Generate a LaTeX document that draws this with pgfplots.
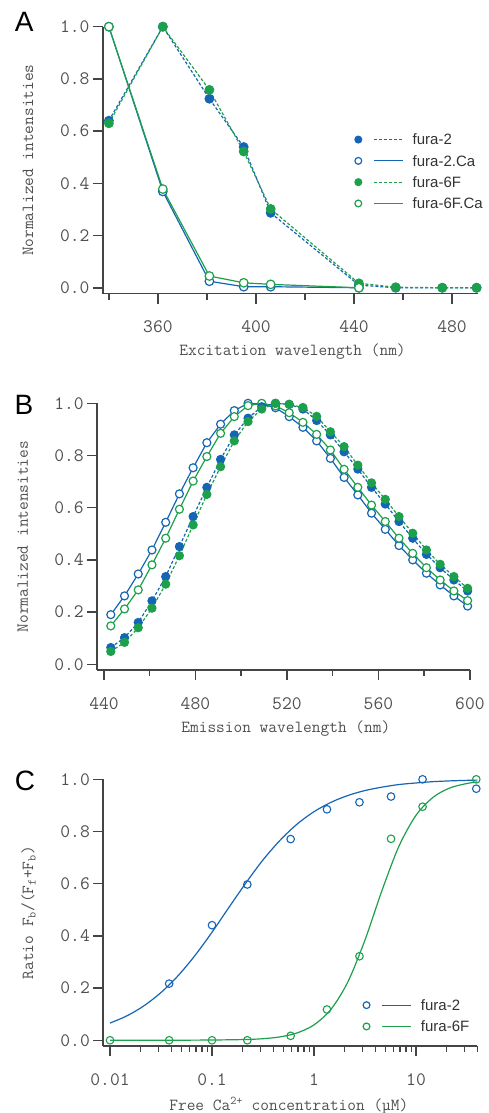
\documentclass[border=0pt]{standalone}
\usepackage{fontspec}
\newfontfamily\arial{Liberation Sans}
\usepackage{pgfplots}
\usepackage{pgfplotstable}
\pgfplotsset{compat=1.18}

\definecolor{fblue}{HTML}{1565B5}
\definecolor{fgreen}{HTML}{1DA04C}
\definecolor{axgray}{HTML}{444444}
\definecolor{txtgray}{HTML}{505050}
\definecolor{legtxt}{HTML}{333333}

% emission spectra, panel B: x, fura-2.Ca, fura-6F.Ca, fura-2, fura-6F
\pgfplotstableread{
x   f2ca  f6ca  f2    f6
443 0.190 0.147 0.064 0.049
449 0.262 0.212 0.102 0.084
455 0.346 0.285 0.160 0.140
461 0.438 0.381 0.243 0.215
467 0.544 0.483 0.336 0.307
473 0.653 0.594 0.451 0.416
479 0.753 0.702 0.566 0.534
485 0.849 0.796 0.678 0.651
491 0.920 0.885 0.785 0.757
497 0.972 0.949 0.879 0.856
503 1.000 0.991 0.943 0.930
509 0.997 1.000 0.987 0.978
515 0.983 0.990 1.000 1.000
521 0.949 0.964 0.996 0.996
527 0.908 0.927 0.978 0.984
533 0.856 0.881 0.934 0.950
539 0.789 0.821 0.879 0.891
545 0.716 0.747 0.814 0.834
551 0.649 0.678 0.748 0.763
557 0.579 0.610 0.678 0.695
563 0.517 0.547 0.614 0.632
569 0.455 0.483 0.547 0.566
575 0.400 0.425 0.483 0.502
581 0.349 0.370 0.421 0.438
587 0.304 0.323 0.370 0.383
593 0.262 0.281 0.323 0.336
599 0.223 0.244 0.281 0.291
}\emis

\pgfplotsset{
  base/.style={
    scale only axis, clip=false,
    axis lines=left,
    axis line style={-, axgray, line width=1.8pt},
    tick align=outside,
    major tick length=10pt, minor tick length=6pt,
    every tick/.append style={axgray, line width=1.5pt},
    ymin=-0.022, ymax=1,
    ytick={0,0.2,0.4,0.6,0.8,1.0},
    yticklabel style={/pgf/number format/.cd, fixed, fixed zerofill, precision=1},
    /pgf/number format/assume math mode=true,
    ticklabel style={font=\ttfamily\fontsize{19}{19}\selectfont, text=txtgray},
    xticklabel shift=14pt,
    label style={font=\ttfamily\fontsize{16.9}{16.9}\selectfont, text=txtgray},
    xlabel style={anchor=center},
    ylabel style={anchor=center},
    legend cell align=left,
    legend style={draw=none, fill=none, inner sep=0pt,
      font=\arial\fontsize{15}{15}\selectfont, text=legtxt,
      nodes={inner sep=0pt, text height=10.7pt, text depth=0pt},
      row sep=10.6pt, column sep=9pt},
    legend image code/.code={
      \draw[mark size=3.4pt] plot coordinates {(0pt,0pt)};
      \draw[mark=none] (15.5pt,0pt) -- (44.8pt,0pt);
    },
  },
  bfill/.style={fblue, line width=1.2pt, dash pattern=on 3pt off 2pt,
    mark=*, mark size=#1, mark options={solid, fill=fblue}},
  gfill/.style={fgreen, line width=1.2pt, dash pattern=on 3pt off 2pt,
    mark=*, mark size=#1, mark options={solid, fill=fgreen}},
  bopen/.style={fblue, line width=1.2pt,
    mark=*, mark size=#1, mark options={solid, fill=white}},
  gopen/.style={fgreen, line width=1.2pt,
    mark=*, mark size=#1, mark options={solid, fill=white}},
}

\begin{document}
\begin{tikzpicture}
\useasboundingbox (0,0) rectangle (488pt,-1113pt);

% ---------- A: excitation ----------
\begin{axis}[base,
  at={(103pt,-26.7pt)}, anchor=north west,
  width=375.3pt, height=266.8pt,
  xmin=337.6, xmax=490.7,
  xtick={360,400,440,480}, minor xtick={340,380,420,460},
  xlabel={Excitation wavelength (nm)},
  ylabel={Normalized intensities},
  xlabel style={at={(axis description cs:0.505,-0.219)}},
  ylabel style={at={(axis description cs:-0.2,0.5)}},
  legend style={at={(axis description cs:0.6707,0.5978)}, anchor=north west},
]
\addplot[bfill=4.3pt] coordinates {(340,0.640) (362,1.0) (381,0.724) (395,0.539) (406,0.287) (442,0.010) (457,0.0) (476,0.0) (490,0.0)};
\addlegendentry{fura-2}
\addplot[bopen=4.3pt] coordinates {(340,1.0) (362,0.369) (381,0.025) (395,0.004) (406,0.004) (442,0.0)};
\addlegendentry{fura-2.Ca}
\addplot[gfill=4.3pt] coordinates {(340,0.630) (362,1.0) (381,0.758) (395,0.522) (406,0.302) (442,0.017) (457,0.002) (476,0.0) (490,0.0)};
\addlegendentry{fura-6F}
\addplot[gopen=4.3pt] coordinates {(340,1.0) (362,0.378) (381,0.045) (395,0.019) (406,0.013) (442,0.0)};
\addlegendentry{fura-6F.Ca}
\end{axis}

% ---------- B: emission ----------
\begin{axis}[base,
  at={(97.3pt,-403.3pt)}, anchor=north west,
  width=372.6pt, height=266.7pt,
  xmin=437.1, xmax=600,
  xtick={440,480,520,560,600}, minor xtick={460,500,540,580},
  xlabel={Emission wavelength (nm)},
  ylabel={Normalized intensities},
  xlabel style={at={(axis description cs:0.506,-0.2186)}},
  ylabel style={at={(axis description cs:-0.2,0.5)}},
]
\addplot[bopen=4pt] table[x=x, y=f2ca] {\emis};
\addplot[gopen=4pt] table[x=x, y=f6ca] {\emis};
\addplot[bfill=4pt] table[x=x, y=f2] {\emis};
\addplot[gfill=4pt] table[x=x, y=f6] {\emis};
\end{axis}

% ---------- C: Ca titration ----------
\begin{axis}[base,
  at={(103.3pt,-779.3pt)}, anchor=north west,
  width=374.1pt, height=266.7pt,
  xmode=log, xmin=0.00859, xmax=40,
  xtick={0.01,0.1,1,10}, xticklabels={0.01,0.1,1,10},
  minor xtick={0.02,0.03,0.04,0.05,0.06,0.07,0.08,0.09,0.2,0.3,0.4,0.5,0.6,0.7,0.8,0.9,2,3,4,5,6,7,8,9,20,30,40},
  xlabel={Free Ca\textsuperscript{2+} concentration (µM)},
  ylabel={Ratio F\textsubscript{b}/(F\textsubscript{f}+F\textsubscript{b})},
  xlabel style={at={(axis description cs:0.496,-0.224)}},
  ylabel style={at={(axis description cs:-0.2,0.5)}},
  legend style={at={(axis description cs:0.694,0.174)}, anchor=north west},
]
% fitted binding curves
\addplot[fblue, line width=1.2pt, smooth, forget plot] coordinates {
 (0.01,0.066) (0.0147,0.094) (0.0215,0.132) (0.0316,0.183) (0.0464,0.247)
 (0.0681,0.325) (0.1,0.414) (0.147,0.510) (0.215,0.603) (0.316,0.691)
 (0.464,0.766) (0.681,0.828) (1,0.876) (1.47,0.912) (2.15,0.938)
 (3.16,0.957) (4.64,0.970) (6.81,0.980) (10,0.986) (14.7,0.991)
 (21.5,0.994) (31.6,0.996) (40,0.997)};
\addplot[fgreen, line width=1.2pt, smooth, forget plot] coordinates {
 (0.01,0.0) (0.0316,0.0) (0.1,0.001) (0.215,0.003) (0.316,0.006)
 (0.464,0.013) (0.681,0.028) (1,0.059) (1.47,0.119) (2.15,0.224)
 (3.16,0.384) (4.64,0.574) (6.81,0.744) (10,0.862) (14.7,0.931)
 (21.5,0.967) (31.6,0.984) (40,0.990)};
% measured ratios
\addplot[only marks, fblue, line width=1.1pt, mark=o, mark size=3.8pt, forget plot] coordinates {
 (0.038,0.217) (0.1,0.441) (0.222,0.597) (0.59,0.771) (1.34,0.885)
 (2.79,0.912) (5.69,0.934) (11.6,1.0) (39,0.964)};
\addplot[only marks, fgreen, line width=1.1pt, mark=o, mark size=3.8pt, forget plot] coordinates {
 (0.01,0.0) (0.038,0.0) (0.1,0.0) (0.222,0.0) (0.59,0.017) (1.34,0.118)
 (2.79,0.322) (5.69,0.772) (11.6,0.895) (39,1.0)};
\addlegendimage{fblue, line width=1.2pt, mark=o, mark options={solid}}
\addlegendentry{fura-2}
\addlegendimage{fgreen, line width=1.2pt, mark=o, mark options={solid}}
\addlegendentry{fura-6F}
\end{axis}

% panel letters
\node[font=\arial\fontsize{28}{28}\selectfont, text=black] at (24.2pt,-22pt) {A};
\node[font=\arial\fontsize{28}{28}\selectfont, text=black] at (24pt,-405pt) {B};
\node[font=\arial\fontsize{28}{28}\selectfont, text=black] at (25pt,-781pt) {C};
\end{tikzpicture}
\end{document}
